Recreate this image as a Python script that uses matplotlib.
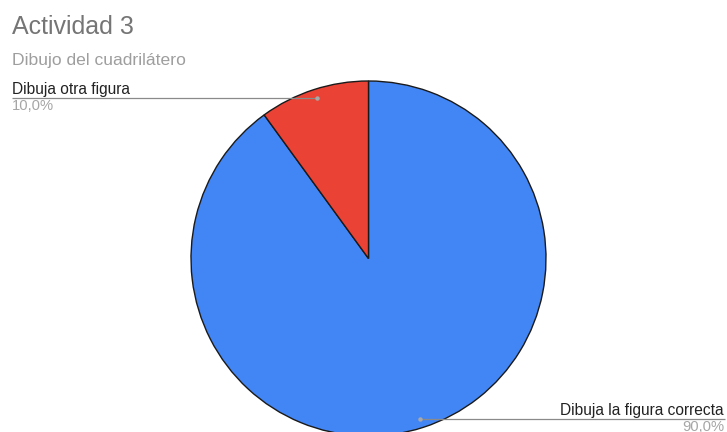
import numpy as np
import matplotlib
matplotlib.use("Agg")
import matplotlib.pyplot as plt

# Chart data
categories = ["Dibuja la figura correcta", "Dibuja otra figura"]
values = [90.0, 10.0]
pct_labels = ["90,0%", "10,0%"]
colors = ["#4285F4", "#EA4335"]

title = "Actividad 3"
subtitle = "Dibujo del cuadrilátero"

W, H = 727, 432
plt.rcParams["font.family"] = ["Liberation Sans", "DejaVu Sans"]

fig = plt.figure(figsize=(W / 100, H / 100), dpi=100)
ax = fig.add_axes([0, 0, 1, 1])

# pixel-like coordinate system (y upwards)
cx, cy, r = 368.5, H - 258.5, 177.5
wedges, _ = ax.pie(values, colors=colors, startangle=90, counterclock=False,
                   center=(cx, cy), radius=r,
                   wedgeprops=dict(edgecolor="#1a1a1a", linewidth=1.0))
ax.set_xlim(0, W)
ax.set_ylim(0, H)
ax.set_aspect("equal")
ax.axis("off")
for w in wedges:
    w.set_clip_on(True)

# Title and subtitle
ax.text(12, H - 34, title, fontsize=18, color="#757575", ha="left", va="baseline")
ax.text(12, H - 65, subtitle, fontsize=12.6, color="#9e9e9e", ha="left", va="baseline")

# Leader lines and labels
for w, cat, pct in zip(wedges, categories, pct_labels):
    mid = np.deg2rad((w.theta1 + w.theta2) / 2)
    px = cx + 0.948 * r * np.cos(mid)
    py = cy + 0.948 * r * np.sin(mid)
    if np.cos(mid) < 0:
        x0, ha = 12, "left"
    else:
        x0, ha = 725, "right"
    ax.plot([x0, px], [py, py], color="#8a8a8a", linewidth=0.9, solid_capstyle="butt")
    ax.plot(px, py, "o", color="#a8a8a8", markersize=3.2, markeredgewidth=0)
    tx = x0 if ha == "left" else x0 - 1
    ax.text(tx, py + 4, cat, fontsize=11.2, color="#222222", ha=ha, va="baseline")
    ax.text(tx, py - 1, pct, fontsize=10.6, color="#a6a6a6", ha=ha, va="top")

fig.savefig("out.png", dpi=100)
